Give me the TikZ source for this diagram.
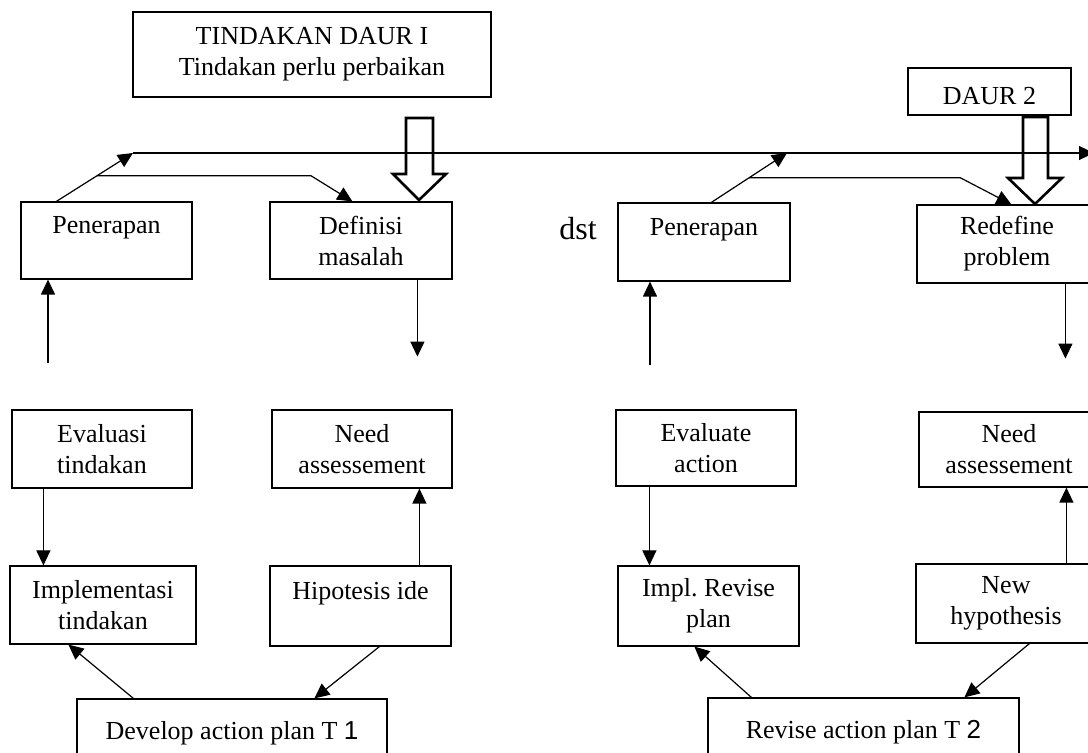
\documentclass[tikz,border=0pt]{standalone}
\usepackage{fontspec}
\setmainfont{Liberation Serif}
\newfontfamily\arialfont{Liberation Sans}
\usetikzlibrary{arrows.meta,calc}

\begin{document}
\frenchspacing
\begin{tikzpicture}[x=0.5pt,y=-0.5pt,
            box/.style={draw, line width=0.6pt, align=center, inner sep=0pt, font=\fontsize{13}{15.5}\selectfont,
              execute at begin node={\rule{0pt}{13pt}}},
            conn/.style={line width=0.6pt, -{Triangle[length=7.5pt,width=7pt]}},
            hollow/.style={line width=1.3pt, line join=miter}]
        \useasboundingbox (0,0) rectangle (1088,753);
        \clip (0,0) rectangle (1088,753);

        % daur 1
        \node[box, minimum width=179pt, minimum height=42.5pt] (tindakan) at (312,54.5) {TINDAKAN DAUR I\\Tindakan perlu perbaikan};
        \node[box, minimum width=85.5pt, minimum height=38.5pt] (pen1) at (106.5,240.5) {Penerapan\\\mbox{}};
        \node[box, minimum width=91pt, minimum height=38.5pt] (def) at (361,240.5) {Definisi\\masalah};
        \node[box, minimum width=90pt, minimum height=39pt] (eval1) at (102,449) {Evaluasi\\tindakan};
        \node[box, minimum width=90pt, minimum height=39pt] (need1) at (362,449) {Need\\assessement};
        \node[box, minimum width=93pt, minimum height=39pt] (impl1) at (103,605) {Implementasi\\tindakan};
        \node[box, minimum width=90.5pt, minimum height=40pt] (hip1) at (360.5,606) {Hipotesis ide\\\mbox{}};
        \node[box, minimum width=155pt, minimum height=30pt] (dev1) at (232,729) {Develop action plan T {\arialfont 1}};

        \node[font=\fontsize{16}{19}\selectfont] (dst) at (578,229) {dst};

        % daur 2
        \node[box, minimum width=81.5pt, minimum height=23.5pt] (daur) at (989.5,91.5) {DAUR 2};
        \node[box, minimum width=86pt, minimum height=39pt] (pen2) at (704,242) {Penerapan\\\mbox{}};
        \node[box, minimum width=90pt, minimum height=39pt] (redef) at (1007,244) {Redefine\\problem};
        \node[box, minimum width=90pt, minimum height=38pt] (eval2) at (706,448) {Evaluate\\action};
        \node[box, minimum width=90pt, minimum height=37.5pt] (need2) at (1009,449.5) {Need\\assessement};
        \node[box, minimum width=90.5pt, minimum height=40pt] (impl2) at (708.5,606) {Impl. Revise\\plan};
        \node[box, minimum width=90pt, minimum height=39.5pt] (newhyp) at (1006,603.5) {New\\hypothesis};
        \node[box, minimum width=155.5pt, minimum height=30pt] (rev2) at (863.5,728) {Revise action plan T {\arialfont 2}};

        % top line
        \coordinate (lineL) at (133,153);
        \coordinate (lineM) at (787,153);
        \coordinate (lineR) at (1094,153);
        \draw[conn] (lineL) -- (lineR);

        \coordinate (pen1out) at ([xshift=18pt]pen1.north west);
        \coordinate (fork1) at ($(pen1out)!0.53!(lineL)$);
        \draw[conn] (pen1out) -- (lineL);
        \draw[conn] (fork1) -- ++(214,0) -- ([xshift=41.5pt]def.north west);

        \coordinate (pen2out) at ([xshift=47pt]pen2.north west);
        \coordinate (fork2) at ($(pen2out)!0.5!(lineM)$);
        \draw[conn] (pen2out) -- (lineM);
        \draw[conn] (fork2) -- ++(211,0) -- ([xshift=47.5pt]redef.north west);

        % hollow arrows
        \draw[hollow] (406,118) -- (406,174) -- (393,174) -- (419,200) -- (446,174) -- (433,174) -- (433,118) -- cycle;
        \draw[hollow] (1023,117) -- (1023,178) -- (1008,178) -- (1035,204) -- (1062,178) -- (1048,178) -- (1048,117) -- cycle;

        % cycle 1
        \coordinate (up1) at (48,363);
        \draw[conn] (up1) -- (up1 |- pen1.south);
        \draw[conn] ([xshift=74pt]def.south west) -- ++(0,77);
        \draw[conn] ([xshift=16pt]eval1.south west) -- ([xshift=16pt]eval1.south west |- impl1.north);
        \draw[conn] ([xshift=75pt]hip1.north west) -- ([xshift=75pt]hip1.north west |- need1.south);
        \draw[conn] ([xshift=28.5pt]dev1.north west) -- ([xshift=29.5pt]impl1.south west);
        \draw[conn] ([xshift=55pt]hip1.south west) -- ([xshift=119pt]dev1.north west);

        % cycle 2
        \coordinate (up2) at (650,365);
        \draw[conn] (up2) -- (up2 |- pen2.south);
        \draw[conn] ([xshift=74.5pt]redef.south west) -- ++(0,75);
        \draw[conn] ([xshift=17pt]eval2.south west) -- ([xshift=17pt]eval2.south west |- impl2.north);
        \draw[conn] ([xshift=75.5pt]newhyp.north west) -- ([xshift=75.5pt]newhyp.north west |- need2.south);
        \draw[conn] ([xshift=22pt]rev2.north west) -- ([xshift=38.5pt]impl2.south west);
        \draw[conn] ([xshift=57pt]newhyp.south west) -- ([xshift=128.5pt]rev2.north west);
    \end{tikzpicture}
\end{document}
